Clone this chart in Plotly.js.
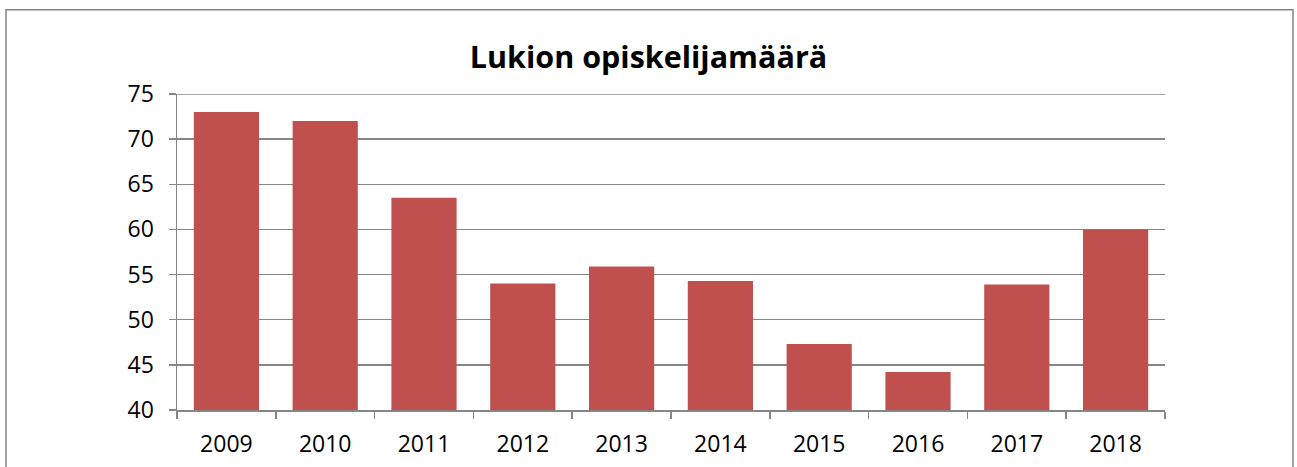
<!DOCTYPE html>
<html>
<head>
<meta charset="utf-8">
<script src="https://cdn.plot.ly/plotly-3.0.1.min.js"></script>
<style>
html,body{margin:0;padding:0;background:#fff;}
#chart{width:1297px;height:467px;}
</style>
</head>
<body>
<div id="chart"></div>
<script>
const years = ["2009","2010","2011","2012","2013","2014","2015","2016","2017","2018"];
const students = [73, 72, 63.5, 54, 55.9, 54.3, 47.3, 44.2, 53.9, 60];
const yTicks = [40,45,50,55,60,65,70,75];
const chartTitle = "Lukion opiskelijamäärä";

const trace = {
  type: "bar",
  x: years,
  y: students,
  marker: {color: "#C0504D", line: {width: 0}},
  width: 0.66,
  hoverinfo: "x+y"
};

const layout = {
  width: 1297, height: 467,
  margin: {l: 177, r: 132, t: 94, b: 57, pad: 0},
  paper_bgcolor: "#fff", plot_bgcolor: "#fff",
  showlegend: false,
  font: {family: "Open Sans, sans-serif", color: "#000", size: 23},
  title: {text: "<b>" + chartTitle + "</b>", x: 0.5, xref: "container", xanchor: "center",
          y: 1 - 57/467, yanchor: "middle", font: {size: 30.5, color: "#000", family: "Open Sans, sans-serif"}},
  xaxis: {
    type: "category",
    showline: true, linecolor: "#868686", linewidth: 1.5,
    ticks: "outside", tickson: "boundaries", ticklen: 7, tickcolor: "#868686", tickwidth: 1.5,
    showgrid: false, ticklabelstandoff: 13,
    tickfont: {size: 23}
  },
  yaxis: {
    range: [40, 75], tickvals: yTicks, ticktext: yTicks.map(String),
    showline: true, linecolor: "#868686", linewidth: 1.5,
    ticks: "outside", ticklen: 7, tickcolor: "#868686", tickwidth: 1.5,
    showgrid: true, gridcolor: "#868686", gridwidth: 1.3,
    zeroline: false, ticklabelstandoff: 10,
    tickfont: {size: 23}
  },
  shapes: [{
    type: "rect", xref: "paper", yref: "paper",
    x0: (6-177)/988, x1: (1293-177)/988, y0: -0.3, y1: (409.5-10)/315.5,
    line: {color: "#868686", width: 1.5}, fillcolor: "rgba(0,0,0,0)", layer: "below"
  }, {
    type: "line", xref: "paper", yref: "y",
    x0: 0, x1: 1, y0: yTicks[yTicks.length-1], y1: yTicks[yTicks.length-1],
    line: {color: "#868686", width: 1.3}, layer: "below"
  }]
};

Plotly.newPlot("chart", [trace], layout, {displayModeBar: false, staticPlot: true});
</script>
</body>
</html>
